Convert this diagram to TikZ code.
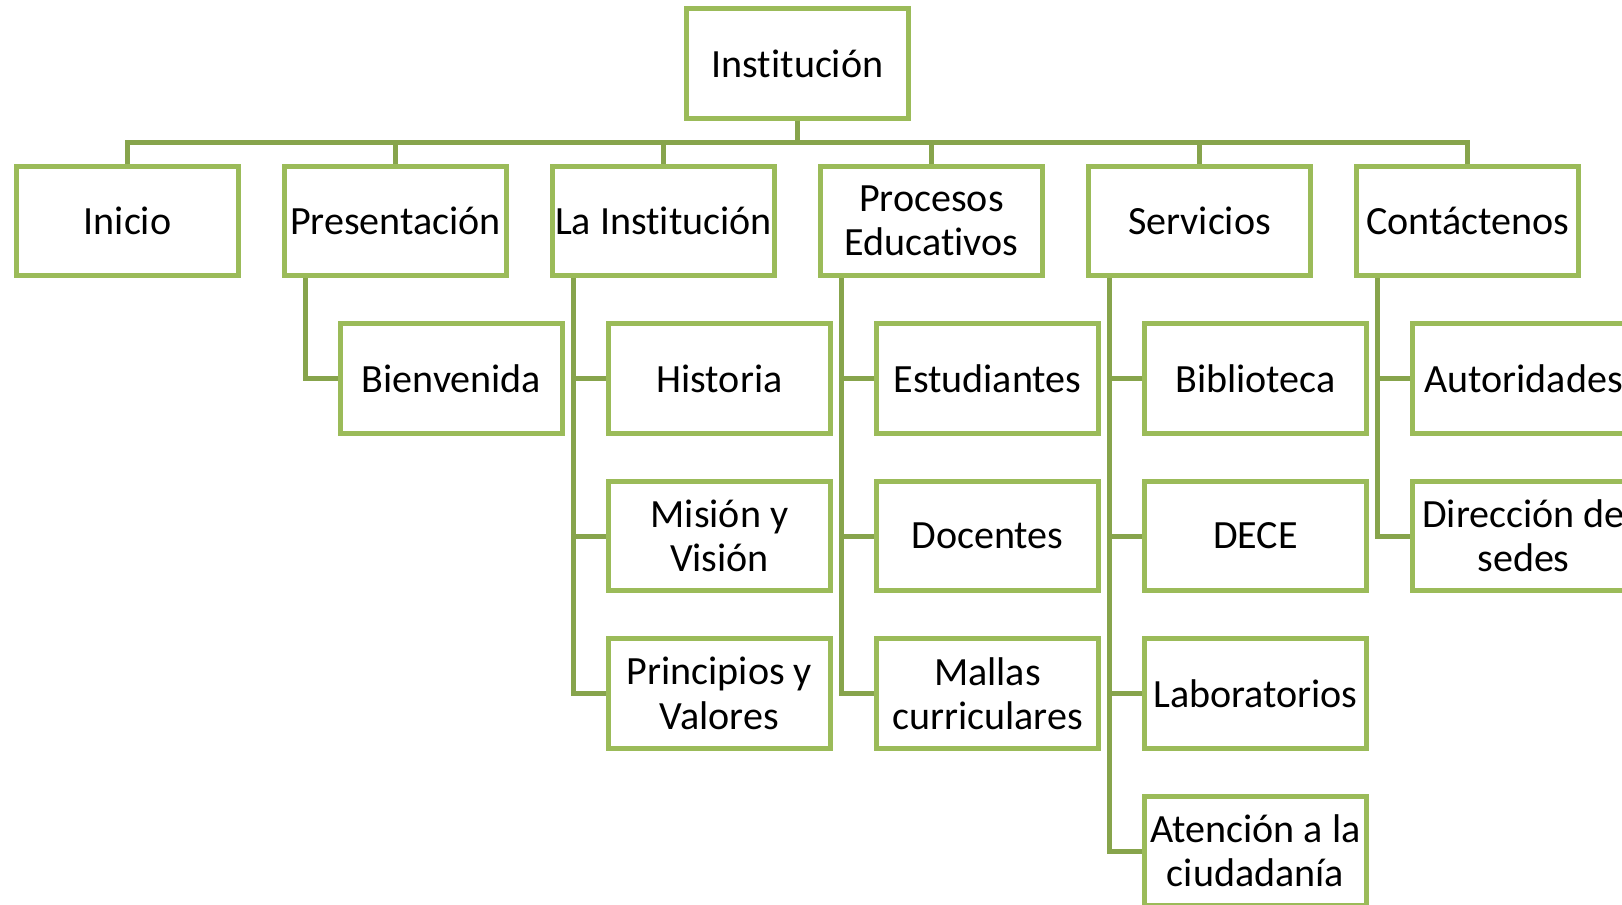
\documentclass[tikz,border=0pt]{standalone}
\usepackage{fontspec}
\setmainfont{Carlito}[Ligatures=NoCommon]
\usepackage{tikz}
\definecolor{olivebox}{HTML}{9BBB59}
\definecolor{olivelink}{HTML}{87A44C}

\tikzset{
  box/.style={draw=olivebox, line width=0.1cm, fill=white, inner sep=0pt,
    minimum width=4.44cm, minimum height=2.2cm, align=center,
    font=\fontsize{22.8}{25.3}\selectfont},
  link/.style={draw=olivelink, line width=0.1cm}
}

\begin{document}
\begin{tikzpicture}[x=0.02cm, y=-0.02cm]
    \useasboundingbox (0,0) rectangle (1622,905);
    \clip (0,0) rectangle (1622,905);

    % raiz y primer nivel
    \node[box] (inst) at (797.5,63.5) {Institución};
    \coordinate (bus) at (797.5,143);

    \node[box] (inicio) at (127.5,221) {Inicio};
    \node[box] (present) at (395.5,221) {Presentación};
    \node[box] (lainst) at (663.5,221) {La Institución};
    \node[box] (procesos) at (931.5,221) {Procesos\\Educativos};
    \node[box] (servicios) at (1199.5,221) {Servicios};
    \node[box] (contact) at (1467.5,221) {Contáctenos};

    % segundo nivel
    \node[box] (bienv) at (451.5,378.5) {Bienvenida};

    \node[box] (historia) at (719.5,378.5) {Historia};
    \node[box] (mision) at (719.5,536) {Misión y\\Visión};
    \node[box] (princ) at (719.5,693.5) {Principios y\\Valores};

    \node[box] (estud) at (987.5,378.5) {Estudiantes};
    \node[box] (docentes) at (987.5,536) {Docentes};
    \node[box] (mallas) at (987.5,693.5) {Mallas\\curriculares};

    \node[box] (biblio) at (1255.5,378.5) {Biblioteca};
    \node[box] (dece) at (1255.5,536) {DECE};
    \node[box] (labs) at (1255.5,693.5) {Laboratorios};
    \node[box] (atencion) at (1255.5,851) {Atención a la\\ciudadanía};

    \node[box] (autor) at (1523.5,378.5) {Autoridades};
    \node[box] (direcc) at (1523.5,536) {Dirección de\\sedes};

    % conectores
    \draw[link] (inst.south) -- (bus);
    \draw[link] (bus) -| (inicio.north);
    \draw[link] (bus) -| (present.north);
    \draw[link] (bus) -| (lainst.north);
    \draw[link] (bus) -| (procesos.north);
    \draw[link] (bus) -| (servicios.north);
    \draw[link] (bus) -| (contact.north);

    \draw[link] ([xshift=0.46cm]present.south west) |- (bienv.west);

    \draw[link] ([xshift=0.46cm]lainst.south west) |- (historia.west);
    \draw[link] ([xshift=0.46cm]lainst.south west) |- (mision.west);
    \draw[link] ([xshift=0.46cm]lainst.south west) |- (princ.west);

    \draw[link] ([xshift=0.46cm]procesos.south west) |- (estud.west);
    \draw[link] ([xshift=0.46cm]procesos.south west) |- (docentes.west);
    \draw[link] ([xshift=0.46cm]procesos.south west) |- (mallas.west);

    \draw[link] ([xshift=0.46cm]servicios.south west) |- (biblio.west);
    \draw[link] ([xshift=0.46cm]servicios.south west) |- (dece.west);
    \draw[link] ([xshift=0.46cm]servicios.south west) |- (labs.west);
    \draw[link] ([xshift=0.46cm]servicios.south west) |- (atencion.west);

    \draw[link] ([xshift=0.46cm]contact.south west) |- (autor.west);
    \draw[link] ([xshift=0.46cm]contact.south west) |- (direcc.west);
\end{tikzpicture}
\end{document}
